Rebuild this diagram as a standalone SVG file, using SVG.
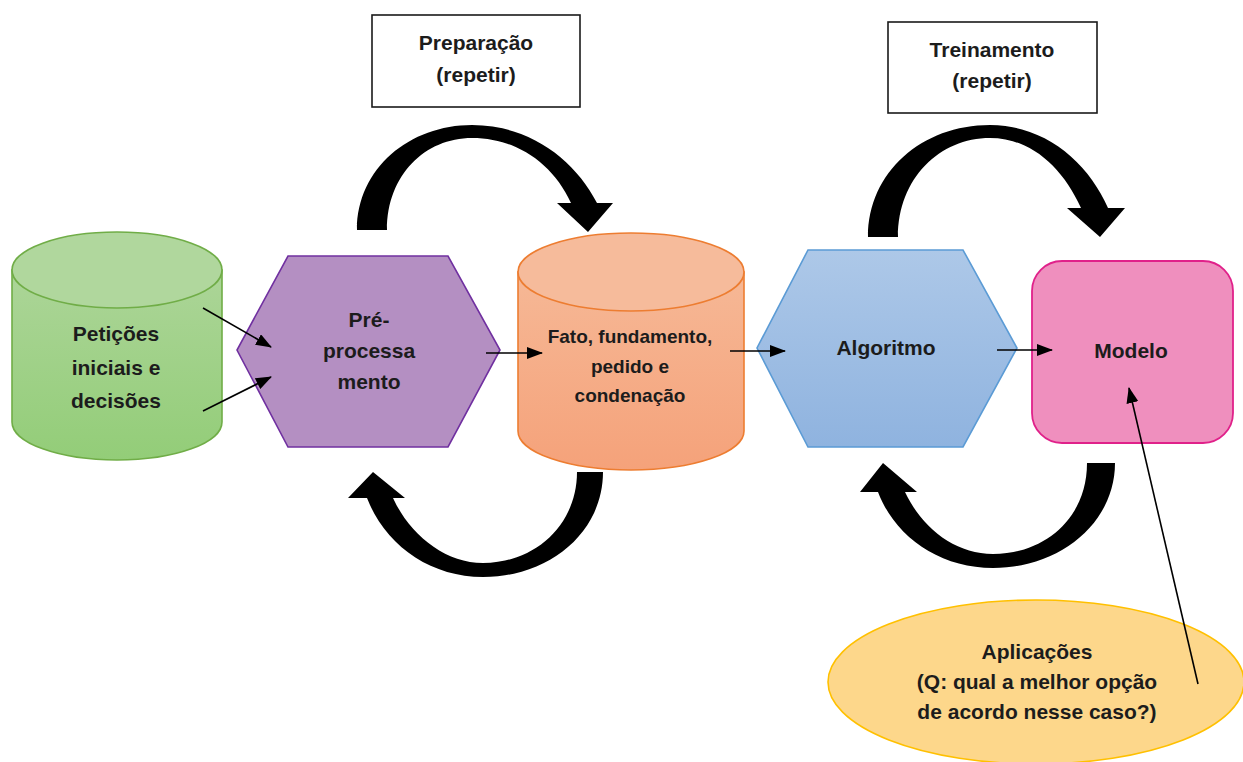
<svg xmlns="http://www.w3.org/2000/svg" width="1243" height="762" viewBox="0 0 1243 762">
  <defs>
    <linearGradient id="gGreen" x1="0" y1="0" x2="0" y2="1">
      <stop offset="0" stop-color="#acd598"/>
      <stop offset="1" stop-color="#93cd78"/>
    </linearGradient>
    <linearGradient id="gOrange" x1="0" y1="0" x2="0" y2="1">
      <stop offset="0" stop-color="#f6b896"/>
      <stop offset="1" stop-color="#f5a27a"/>
    </linearGradient>
    <linearGradient id="gBlue" x1="0" y1="0" x2="0" y2="1">
      <stop offset="0" stop-color="#adc8e8"/>
      <stop offset="1" stop-color="#8fb3df"/>
    </linearGradient>
    <marker id="head" viewBox="0 0 16 12" refX="15" refY="6" markerWidth="16" markerHeight="12" markerUnits="userSpaceOnUse" orient="auto">
      <path d="M0,0 L16,6 L0,12 z" fill="#000"/>
    </marker>
    <filter id="soft" x="-5%" y="-5%" width="110%" height="110%">
      <feGaussianBlur stdDeviation="0.6"/>
    </filter>
  </defs>
  <style>
    .lbl { font-family: "Liberation Sans", Arial, sans-serif; font-weight: bold; font-size: 21px; fill: #1c1c1c; text-anchor: middle; }
    .sm { font-size: 19px; }
    .link { stroke: #000; stroke-width: 1.6; fill: none; marker-end: url(#head); }
    .loop { fill: #000; filter: url(#soft); }
  </style>

  <rect width="1243" height="762" fill="#fff"/>

  <!-- label boxes -->
  <g id="preparacao">
    <rect x="372" y="15" width="208" height="92" fill="#fff" stroke="#1a1a1a" stroke-width="1.6"/>
    <text class="lbl" x="476" y="50">Preparação</text>
    <text class="lbl" x="476" y="82">(repetir)</text>
  </g>
  <g id="treinamento">
    <rect x="888" y="22" width="209" height="91" fill="#fff" stroke="#1a1a1a" stroke-width="1.6"/>
    <text class="lbl" x="992" y="57">Treinamento</text>
    <text class="lbl" x="992" y="88">(repetir)</text>
  </g>

  <!-- input data store -->
  <g id="peticoes">
    <path d="M12,270 L12,422 A105,38 0 0 0 222,422 L222,270 Z" fill="url(#gGreen)" stroke="#70ad47" stroke-width="1.6"/>
    <ellipse cx="117" cy="270" rx="105" ry="38" fill="#b0d79d" stroke="#70ad47" stroke-width="1.6"/>
    <text class="lbl" x="116" y="341">Petições</text>
    <text class="lbl" x="116" y="375">iniciais e</text>
    <text class="lbl" x="116" y="408">decisões</text>
  </g>

  <g id="preprocessamento">
    <polygon points="288,256 448,256 500,350 448,447 288,447 237,350" fill="#b48fc2" stroke="#7030a0" stroke-width="1.6"/>
    <text class="lbl" x="369" y="327">Pré-</text>
    <text class="lbl" x="369" y="358">processa</text>
    <text class="lbl" x="369" y="389">mento</text>
  </g>

  <g id="fato">
    <path d="M518,272 L518,431 A113,39 0 0 0 744,431 L744,272 Z" fill="url(#gOrange)" stroke="#ed7d31" stroke-width="1.6"/>
    <ellipse cx="631" cy="272" rx="113" ry="39" fill="#f6bb9b" stroke="#ed7d31" stroke-width="1.6"/>
    <text class="lbl sm" x="630" y="343">Fato, fundamento,</text>
    <text class="lbl sm" x="630" y="373">pedido e</text>
    <text class="lbl sm" x="630" y="402">condenação</text>
  </g>

  <g id="algoritmo">
    <polygon points="808,250 963,250 1017,348 963,447 808,447 757,348" fill="url(#gBlue)" stroke="#5b9bd5" stroke-width="1.6"/>
    <text class="lbl" x="886" y="355">Algoritmo</text>
  </g>

  <g id="modelo">
    <rect x="1032" y="261" width="201" height="182" rx="30" ry="30" fill="#ef8fbe" stroke="#e0218a" stroke-width="1.8"/>
    <text class="lbl" x="1131" y="358">Modelo</text>
  </g>

  <g id="aplicacoes">
    <ellipse cx="1036" cy="682" rx="208" ry="82" fill="#fdd78b" stroke="#ffc000" stroke-width="1.6"/>
    <text class="lbl" x="1037" y="659">Aplicações</text>
    <text class="lbl" x="1037" y="689">(Q: qual a melhor opção</text>
    <text class="lbl" x="1037" y="719">de acordo nesse caso?)</text>
  </g>

  <!-- connectors -->
  <g id="connectors">
    <line class="link" x1="203" y1="308" x2="271" y2="347"/>
    <line class="link" x1="203" y1="411" x2="271" y2="377"/>
    <line class="link" x1="486" y1="353" x2="542" y2="353"/>
    <line class="link" x1="730" y1="351" x2="785" y2="351"/>
    <line class="link" x1="997" y1="350" x2="1052" y2="350"/>
    <line class="link" x1="1198" y1="684" x2="1129" y2="388"/>

    <!-- repeat loops -->
    <path class="loop" d="M357,230 C357,168 410,125 472,125 C530,125 575,160 597,203 L613,203 L588,232 L557,203 L571,203 C552,162 515,138 472,138 C425,138 387,175 387,230 Z"/>
    <path class="loop" d="M603,472 C603,532 550,577 483,577 C430,577 385,545 367,498 L348,498 L373,472 L405,498 L393,498 C410,535 445,563 483,563 C535,563 577,525 577,472 Z"/>
    <path class="loop" d="M868,237 C868,172 922,125 990,125 C1045,125 1088,162 1108,208 L1125,208 L1100,237 L1067,208 L1081,208 C1062,166 1030,138 990,138 C940,138 898,178 898,237 Z"/>
    <path class="loop" d="M1115,463 C1115,523 1060,568 993,568 C940,568 895,537 878,492 L860,492 L883,463 L917,492 L905,492 C922,528 955,554 993,554 C1045,554 1087,518 1087,463 Z"/>
  </g>
</svg>
